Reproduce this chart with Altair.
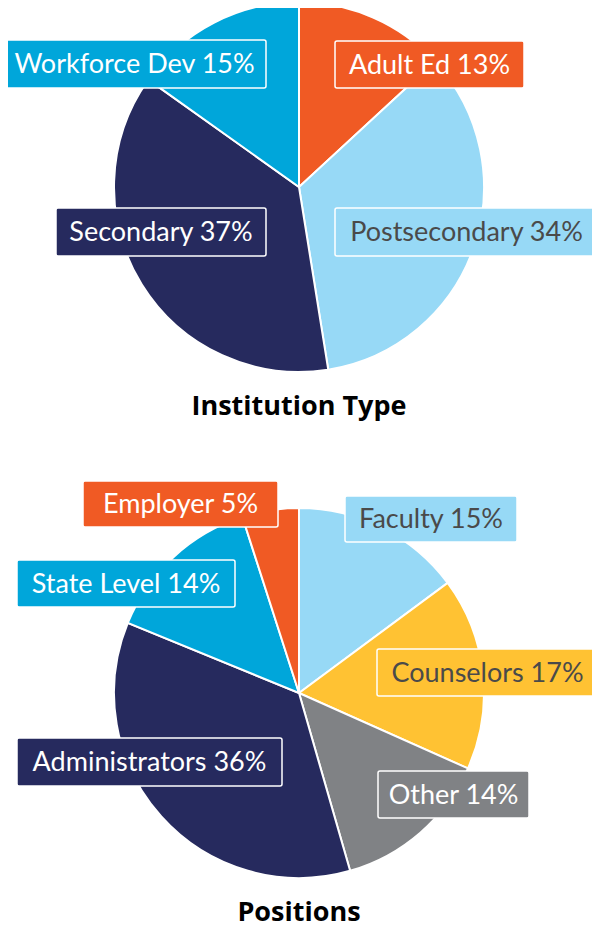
import altair as alt
import pandas as pd

# ---- data ----
top_cats = ["Adult Ed", "Postsecondary", "Secondary", "Workforce Dev"]
top_vals = [13, 34, 37, 15]
top_colors = ["#F05A24", "#97D9F6", "#262A5E", "#00A6DA"]
top_text_colors = ["white", "#4A4A4A", "white", "white"]

bot_cats = ["Faculty", "Counselors", "Other", "Administrators", "State Level", "Employer"]
bot_vals = [15, 17, 14, 36, 14, 5]
bot_colors = ["#97D9F6", "#FFC233", "#808285", "#262A5E", "#00A6DA", "#F05A24"]
bot_text_colors = ["#4A4A4A", "#4A4A4A", "white", "white", "white", "white"]

titles = ["Institution Type", "Positions"]

# ---- layout (page pixels) ----
M = 8
W, H = 600 - 2 * M, 937 - 2 * M
R = 185
top_center = (299, 187)
bot_center = (299, 693)
# label boxes: x0, x1, y0, y1
top_boxes = [(335, 524, 41, 88), (335, 598, 208, 256), (56, 266, 208, 256), (3, 266, 40, 88)]
bot_boxes = [(345, 517, 496, 542), (377, 598, 649, 696), (378, 529, 771, 818),
             (17, 282, 738, 786), (17, 235, 560, 607), (83, 278, 481, 527)]
title_pos = [(299, 415), (299, 921)]
title_sizes = [27, 27]
FONT = "Lato"
TITLE_FONT = "Open Sans"


def pie(cats, vals, colors, center, field):
    df = pd.DataFrame({"cat": cats, field: vals, "idx": range(len(cats)), "color": colors})
    return alt.Chart(df).mark_arc(outerRadius=R, stroke="white", strokeWidth=2).encode(
        theta=alt.Theta(f"{field}:Q", stack=True),
        order=alt.Order("idx:Q"),
        color=alt.Color("color:N", scale=None),
        x=alt.value(center[0] - M),
        y=alt.value(center[1] - M),
    )


def labels(cats, vals, colors, tcolors, boxes):
    df = pd.DataFrame({
        "label": [f"{c} {v}%" for c, v in zip(cats, vals)],
        "color": colors,
        "tcolor": tcolors,
        "x0": [b[0] - M for b in boxes],
        "x1": [b[1] - M for b in boxes],
        "y0": [b[2] - M for b in boxes],
        "y1": [b[3] - M for b in boxes],
    })
    df["xc"] = (df["x0"] + df["x1"]) / 2
    df["yc"] = (df["y0"] + df["y1"]) / 2
    base = alt.Chart(df)
    rect = base.mark_rect(stroke="white", strokeWidth=1.5, cornerRadius=2).encode(
        x=alt.X("x0:Q", scale=None), x2="x1:Q",
        y=alt.Y("y0:Q", scale=None), y2="y1:Q",
        color=alt.Color("color:N", scale=None),
    )
    text = base.mark_text(font=FONT, fontSize=27, align="center", baseline="middle", dy=1).encode(
        x=alt.X("xc:Q", scale=None),
        y=alt.Y("yc:Q", scale=None),
        text="label:N",
        color=alt.Color("tcolor:N", scale=None),
    )
    return rect + text


tdf = pd.DataFrame({"t": titles, "x": [p[0] - M for p in title_pos],
                    "y": [p[1] - M for p in title_pos], "s": title_sizes})
title_layer = alt.Chart(tdf).mark_text(font=TITLE_FONT, fontWeight="bold", color="black",
                                       align="center", baseline="alphabetic").encode(
    x=alt.X("x:Q", scale=None), y=alt.Y("y:Q", scale=None), text="t:N",
    size=alt.Size("s:Q", scale=None))

chart = alt.layer(
    pie(top_cats, top_vals, top_colors, top_center, "v_top"),
    pie(bot_cats, bot_vals, bot_colors, bot_center, "v_bot"),
    labels(top_cats, top_vals, top_colors, top_text_colors, top_boxes),
    labels(bot_cats, bot_vals, bot_colors, bot_text_colors, bot_boxes),
    title_layer,
).resolve_scale(theta="independent").properties(
    width=W, height=H, padding=0, autosize=alt.AutoSizeParams(type="none")
).configure_view(stroke=None)

chart.save("out.html", embed_options={"renderer": "svg", "actions": False})
